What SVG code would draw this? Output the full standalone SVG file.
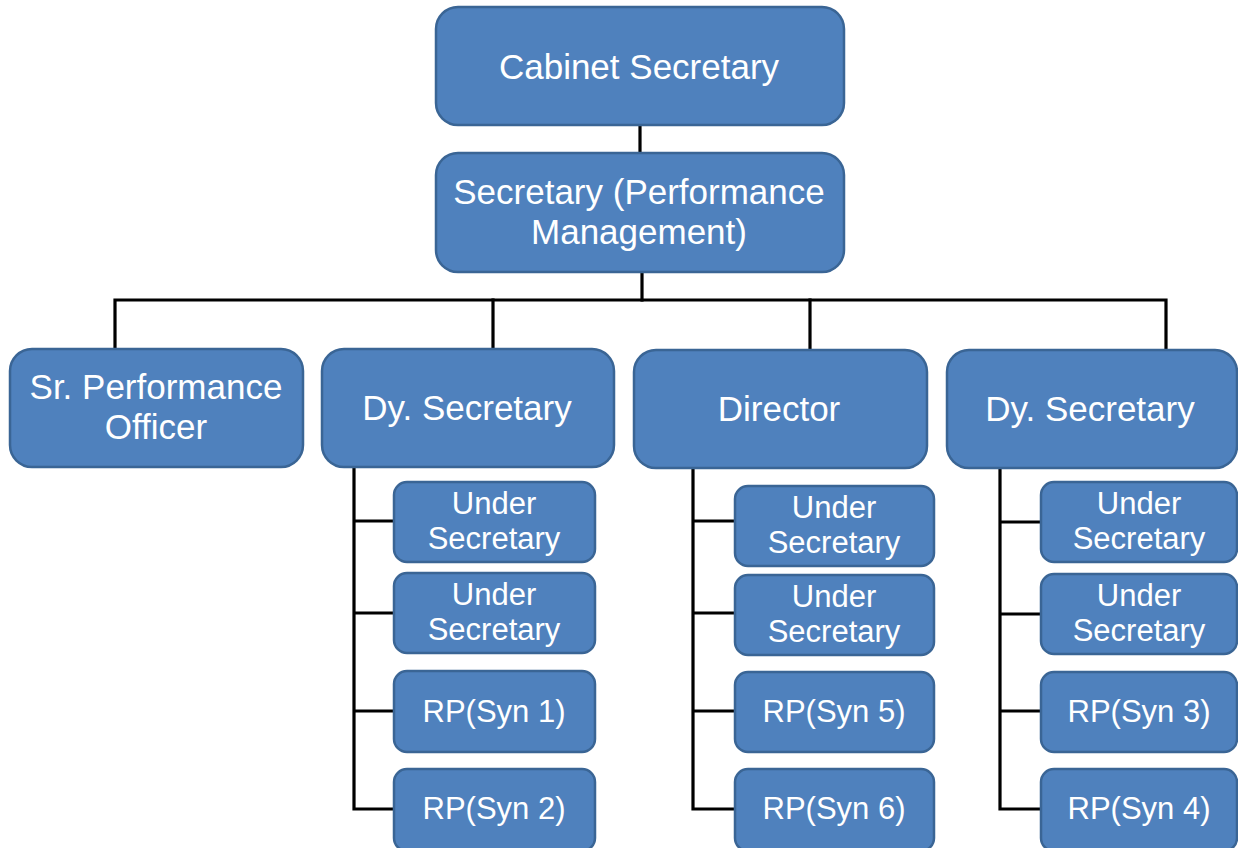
<svg xmlns="http://www.w3.org/2000/svg" width="1238" height="848" viewBox="0 0 1238 848">
<style>
.box{fill:#4f81bd;stroke:#3a6595;stroke-width:2.5}
.t{fill:#ffffff;font-family:"Liberation Sans",Arial,sans-serif;text-anchor:middle}
.big{font-size:35px}
.small{font-size:31px}
.c{fill:none;stroke:#000000;stroke-width:3.2;stroke-linejoin:miter;stroke-linecap:square}
</style>
<rect width="1238" height="848" fill="#ffffff"/>
<g id="connectors">
<path class="c" d="M640,125 V153"/>
<path class="c" d="M642,272 V300"/>
<path class="c" d="M115,349 V300 H1166 V350"/>
<path class="c" d="M493,300 V349"/>
<path class="c" d="M810,300 V350"/>
<path class="c" d="M354,467 V809 H394 M354,521 H394 M354,613 H394 M354,711 H394"/>
<path class="c" d="M693,468 V809 H735 M693,521 H735 M693,613 H735 M693,711 H735"/>
<path class="c" d="M1000,468 V809 H1041 M1000,522 H1041 M1000,614 H1041 M1000,711 H1041"/>
</g>
<g id="cabinet-secretary">
<rect class="box" x="436" y="7" width="408" height="118" rx="22"/>
<text class="t big" x="639" y="79">Cabinet Secretary</text>
</g>
<g id="secretary-pm">
<rect class="box" x="436" y="153" width="408" height="119" rx="22"/>
<text class="t big" x="639" y="204">Secretary (Performance</text>
<text class="t big" x="639" y="244">Management)</text>
</g>
<g id="sr-performance-officer">
<rect class="box" x="10" y="349" width="293" height="118" rx="22"/>
<text class="t big" x="156" y="399">Sr. Performance</text>
<text class="t big" x="156" y="439">Officer</text>
</g>
<g id="dy-secretary-1">
<rect class="box" x="322" y="349" width="292" height="118" rx="22"/>
<text class="t big" x="467" y="420">Dy. Secretary</text>
</g>
<g id="director">
<rect class="box" x="634" y="350" width="293" height="118" rx="22"/>
<text class="t big" x="779" y="421">Director</text>
</g>
<g id="dy-secretary-2">
<rect class="box" x="947" y="350" width="290" height="118" rx="22"/>
<text class="t big" x="1090" y="421">Dy. Secretary</text>
</g>
<g id="under-secretary-1a">
<rect class="box" x="394" y="482" width="201" height="80" rx="13"/>
<text class="t small" x="494" y="514">Under</text>
<text class="t small" x="494" y="549">Secretary</text>
</g>
<g id="under-secretary-1b">
<rect class="box" x="394" y="573" width="201" height="80" rx="13"/>
<text class="t small" x="494" y="605">Under</text>
<text class="t small" x="494" y="640">Secretary</text>
</g>
<g id="rp-syn-1">
<rect class="box" x="394" y="671" width="201" height="81" rx="13"/>
<text class="t small" x="494" y="722">RP(Syn 1)</text>
</g>
<g id="rp-syn-2">
<rect class="box" x="394" y="769" width="201" height="82" rx="13"/>
<text class="t small" x="494" y="819">RP(Syn 2)</text>
</g>
<g id="under-secretary-2a">
<rect class="box" x="735" y="486" width="199" height="80" rx="13"/>
<text class="t small" x="834" y="518">Under</text>
<text class="t small" x="834" y="553">Secretary</text>
</g>
<g id="under-secretary-2b">
<rect class="box" x="735" y="575" width="199" height="80" rx="13"/>
<text class="t small" x="834" y="607">Under</text>
<text class="t small" x="834" y="642">Secretary</text>
</g>
<g id="rp-syn-5">
<rect class="box" x="735" y="672" width="199" height="80" rx="13"/>
<text class="t small" x="834" y="722">RP(Syn 5)</text>
</g>
<g id="rp-syn-6">
<rect class="box" x="735" y="769" width="199" height="82" rx="13"/>
<text class="t small" x="834" y="819">RP(Syn 6)</text>
</g>
<g id="under-secretary-3a">
<rect class="box" x="1041" y="482" width="196" height="80" rx="13"/>
<text class="t small" x="1139" y="514">Under</text>
<text class="t small" x="1139" y="549">Secretary</text>
</g>
<g id="under-secretary-3b">
<rect class="box" x="1041" y="574" width="196" height="80" rx="13"/>
<text class="t small" x="1139" y="606">Under</text>
<text class="t small" x="1139" y="641">Secretary</text>
</g>
<g id="rp-syn-3">
<rect class="box" x="1041" y="672" width="196" height="80" rx="13"/>
<text class="t small" x="1139" y="722">RP(Syn 3)</text>
</g>
<g id="rp-syn-4">
<rect class="box" x="1041" y="769" width="196" height="82" rx="13"/>
<text class="t small" x="1139" y="819">RP(Syn 4)</text>
</g>
</svg>
